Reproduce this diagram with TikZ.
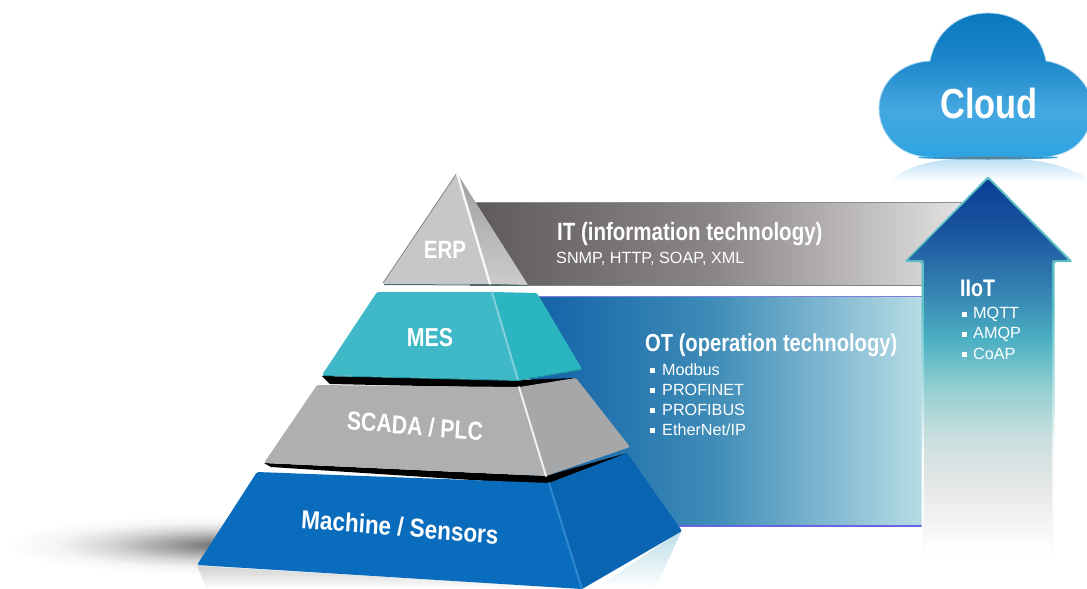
\documentclass[tikz,border=0pt]{standalone}
\usepackage{fontspec}
\setmainfont{Liberation Sans}
\usetikzlibrary{fadings}
\definecolor{ar1}{HTML}{083F95}\definecolor{ar2}{HTML}{1A559F}\definecolor{ar3}{HTML}{3583B2}
\definecolor{ar4}{HTML}{4CB0C3}\definecolor{ar5}{HTML}{96D0D2}\definecolor{ar6}{HTML}{CBDFDF}
\definecolor{ar7}{HTML}{E8E8E8}
\definecolor{ed1}{HTML}{5CC0C6}\definecolor{ed2}{HTML}{A8DDE0}\definecolor{ed3}{HTML}{FAFBFB}
\definecolor{cl1}{HTML}{0A78BD}\definecolor{cl2}{HTML}{1B86C9}\definecolor{cl3}{HTML}{45A8E0}\definecolor{cl4}{HTML}{2EA4E2}
\definecolor{it1}{HTML}{5E5A5A}\definecolor{it2}{HTML}{8B8786}\definecolor{it3}{HTML}{E3E1E1}
\definecolor{ot1}{HTML}{1261A8}\definecolor{ot2}{HTML}{3E8CB7}\definecolor{ot3}{HTML}{B9DDE6}
\definecolor{gs1}{gray}{.42}\definecolor{gs2}{gray}{.62}\definecolor{gs3}{gray}{.84}\definecolor{gs4}{gray}{.96}
\pgfdeclareverticalshading{arrowfill}{100bp}{color(0bp)=(white);color(25bp)=(white);color(33bp)=(ar7);color(40bp)=(ar6);color(46.6bp)=(ar5);color(53.3bp)=(ar4);color(60bp)=(ar3);color(68bp)=(ar2);color(75bp)=(ar1);color(100bp)=(ar1)}
\pgfdeclareverticalshading{arrowedge}{100bp}{color(0bp)=(white);color(25bp)=(ed3);color(38bp)=(ed3);color(48bp)=(ed2);color(58bp)=(ed1);color(75bp)=(ed1);color(100bp)=(ed1)}
\pgfdeclareverticalshading{cloudfill}{100bp}{color(0bp)=(cl4);color(25bp)=(cl4);color(41.6bp)=(cl3);color(59bp)=(cl2);color(75bp)=(cl1);color(100bp)=(cl1)}
\pgfdeclarehorizontalshading{itband}{100bp}{color(0bp)=(it1);color(25bp)=(it1);color(50bp)=(it2);color(75bp)=(it3);color(100bp)=(it3)}
\pgfdeclarehorizontalshading{otband}{100bp}{color(0bp)=(ot1);color(25bp)=(ot1);color(48bp)=(ot2);color(75bp)=(ot3);color(100bp)=(ot3)}
\pgfdeclareradialshading{groundsh}{\pgfpointorigin}{color(0bp)=(gs1);color(6bp)=(gs2);color(13bp)=(gs3);color(19bp)=(gs4);color(25bp)=(white);color(50bp)=(white)}
\tikzset{
  lab/.style={text=white,inner sep=0pt,font=\fontsize{#1}{#1}\selectfont\bfseries,xscale=.82},
  sub/.style={text=white,inner sep=0pt,anchor=west,font=\fontsize{16.2}{16.2}\selectfont},
  bul/.style={fill=white,minimum size=5pt,inner sep=0pt},
  ridge/.style={line width=#1,line cap=round}
}
\begin{document}
\begin{tikzpicture}[x=1pt,y=-1pt]
\useasboundingbox (0,0) rectangle (1087,589);
\clip (0,0) rectangle (1087,589);
% ground shadow
\shade[shading=groundsh] (225,545) ellipse [x radius=222,y radius=30];
% reflections
\shade[top color=black!18,bottom color=white] (197,566) -- (590,589) -- (207,589) -- cycle;
\shade[top color=ot3,bottom color=white] (682,530) -- (655,589) -- (595,589) -- cycle;
% IT band
\shade[shading=itband] (470,202) rectangle (962,285);
\draw[black!45,line width=1pt] (470,202) -- (962,202);
\draw[black!50,line width=1pt] (500,285.5) -- (962,285.5);
% OT band
\shade[shading=otband] (530,296) rectangle (925,526);
\draw[black!30!blue!50!white,line width=1pt] (530,296) -- (925,296);
\draw[black!20!blue!60!white,line width=1.2pt] (640,526) -- (925,526);
% gaps
\fill[black] (271,467) -- (549,485) -- (627,453) -- (546,476) -- (264,463) -- cycle;
\fill[black] (330,384) -- (519,388) -- (576,378) -- (518,380) -- (322,376) -- cycle;
% machine layer
\fill[color={rgb,255:red,10;green,108;blue,189},rounded corners=1.5pt] (257,472) -- (549,483) -- (582,589) -- (197,565) -- cycle;
\fill[color={rgb,255:red,9;green,100;blue,178},rounded corners=1.5pt] (549,483) -- (627,453) -- (682,531) -- (582,589) -- cycle;
\draw[color={rgb,255:red,46;green,138;blue,208},ridge=2pt] (549,483) -- (582,589);
% scada layer
\fill[color={rgb,255:red,174;green,175;blue,177},rounded corners=1.5pt] (317,385) -- (519,387) -- (546,476) -- (264,463) -- cycle;
\fill[color={rgb,255:red,166;green,167;blue,169},rounded corners=1.5pt] (519,387) -- (576,378) -- (630,447) -- (546,476) -- cycle;
\draw[black!6,ridge=2pt] (519,387) -- (546,476);
% mes layer
\fill[color={rgb,255:red,63;green,184;blue,200},rounded corners=1.5pt] (377,292) -- (492,292) -- (518,380) -- (322,375) -- cycle;
\fill[color={rgb,255:red,43;green,181;blue,193},rounded corners=1.5pt] (492,292) -- (537,293) -- (582,369) -- (518,380) -- cycle;
\draw[color={rgb,255:red,128;green,208;blue,218},ridge=2pt] (492,292) -- (518,380);
\draw[color={rgb,255:red,26;green,150;blue,165},line width=1pt] (323,375.5) -- (518,380.5) -- (582,369.5);
% erp layer
\fill[color={rgb,255:red,198;green,199;blue,201},rounded corners=1pt] (457,173) -- (490,284) -- (383,284) -- cycle;
\shade[top color=black!38,bottom color=black!20,rounded corners=1pt] (457,173) -- (528,285) -- (490,284) -- cycle;
\draw[black!50,line width=.8pt] (457,173) -- (383,283);
\draw[black!3,ridge=2.4pt] (457,173) -- (490,284);
\draw[color={rgb,255:red,70;green,110;blue,115},line width=1pt] (384,284.5) -- (490,285) -- (527,285.5);
% cloud reflection
\shade[top color=cl3!38,bottom color=white] (888,182) .. controls (910,165) and (930,158) .. (988,158) .. controls (1040,158) and (1065,165) .. (1087,178) -- (1087,182) -- cycle;
% cloud
\shade[shading=cloudfill,draw=cl3!45,line width=.8pt] (930,61) .. controls (936,30) and (960,13) .. (988,13) .. controls (1016,13) and (1040,30) .. (1046,61) .. controls (1072,65) and (1092,85) .. (1092,108) .. controls (1092,135) and (1075,157) .. (1040,157) -- (930,157) .. controls (900,157) and (879,135) .. (879,108) .. controls (879,82) and (902,62) .. (930,61) -- cycle;
\shade[inner color=black!55,outer color=cl4] (988,157.5) ellipse [x radius=70,y radius=2];
% arrow
\shade[shading=arrowedge,rounded corners=2.5pt] (988,176) -- (1073,262) -- (1054.5,262) -- (1054.5,552.5) -- (921.5,552.5) -- (921.5,262) -- (904,262) -- cycle;
\shade[shading=arrowfill,rounded corners=2pt] (988,179) -- (1068,260) -- (1052,260) -- (1052,551) -- (924,551) -- (924,260) -- (908,260) -- cycle;
% labels
\node[lab=25] (erp) at (445,249.5) {ERP};
\node[lab=26] (mes) at (430,338) {MES};
\node[lab=26,rotate=-4] (scada) at (415,426) {SCADA / PLC};
\node[lab=26,xscale=1.055,rotate=-4] (machine) at (400,527) {Machine / Sensors};
\node[lab=42] (cloud) at (989,103) {Cloud};
\node[lab=24,anchor=west] (iiot) at (960,288) {IIoT};
\node[lab=25,anchor=west] (it) at (557,234.5) {IT (information technology)};
\node[sub] (itsub) at (556,258.5) {SNMP, HTTP, SOAP, XML};
\node[lab=24.6,anchor=west] (ot) at (645,345.5) {OT (operation technology)};
\node[sub] (ot1t) at (662,370) {Modbus};
\node[sub] (ot2t) at (662,390) {PROFINET};
\node[sub] (ot3t) at (662,410) {PROFIBUS};
\node[sub] (ot4t) at (662,430) {EtherNet/IP};
\node[bul] (ot1b) at (652,370) {};
\node[bul] (ot2b) at (652,390) {};
\node[bul] (ot3b) at (652,410) {};
\node[bul] (ot4b) at (652,430) {};
\node[sub] (i1t) at (973,314) {MQTT};
\node[sub] (i2t) at (973,334) {AMQP};
\node[sub] (i3t) at (973,354) {CoAP};
\node[bul] (i1b) at (964,314) {};
\node[bul] (i2b) at (964,334) {};
\node[bul] (i3b) at (964,354) {};
\end{tikzpicture}
\end{document}
